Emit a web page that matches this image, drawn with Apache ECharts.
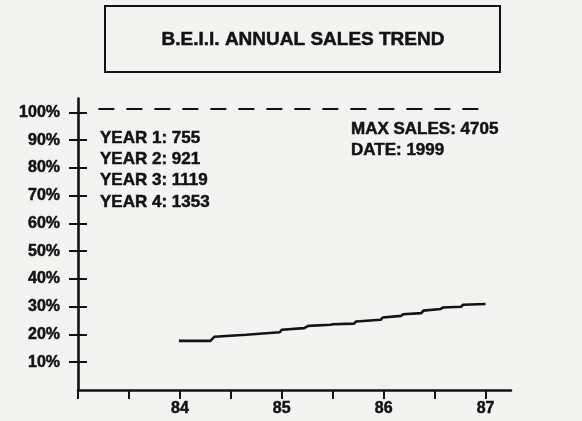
<!DOCTYPE html>
<html>
<head>
<meta charset="utf-8">
<script src="https://cdn.jsdelivr.net/npm/echarts@6/dist/echarts.min.js"></script>
<style>
html,body{margin:0;padding:0;background:#f3f3f1;}
#chart{width:582px;height:421px;}
</style>
</head>
<body>
<div id="chart"></div>
<script>
// ---- data ----
const chartTitle = 'B.E.I.I. ANNUAL SALES TREND';
const saleYears = [83.99, 84.30, 84.34, 84.65, 84.66, 84.98, 85.00, 85.22, 85.26, 85.48, 85.50, 85.71,
                   85.73, 85.97, 85.99, 86.17, 86.19, 86.37, 86.39, 86.56, 86.58, 86.76, 86.78, 87.00];
const salePct   = [17.7, 17.7, 19.2, 19.9, 20.5, 20.8, 21.7, 22.3, 23.1, 23.5, 23.7, 23.9,
                   24.7, 25.3, 26.1, 26.7, 27.3, 27.7, 28.6, 29.2, 29.7, 30.0, 30.7, 31.0];
const refLineYears = [83.2, 87.0];
const refLinePct = 101.5;
const yTickValues = [10, 20, 30, 40, 50, 60, 70, 80, 90, 100];
const xTickValues = [83, 83.5, 84, 84.5, 85, 85.5, 86, 86.5, 87];
const xLabelValues = [84, 85, 86, 87];
const yearNames = ['YEAR 1', 'YEAR 2', 'YEAR 3', 'YEAR 4'];
const yearSales = [755, 921, 1119, 1353];
const maxSales = 4705;
const maxDate = 1999;

// ---- chart ----
const ink = '#131313';
const font = "'Liberation Sans', Arial, sans-serif";
const chart = echarts.init(document.getElementById('chart'), null, {renderer: 'canvas'});

const heavy = {stroke: ink, lineWidth: 0.5};
const graphics = [
  {type: 'rect', shape: {x: 105, y: 6, width: 395, height: 66},
   style: {fill: 'none', stroke: ink, lineWidth: 2}},
  {type: 'text', x: 303, y: 40,
   style: Object.assign({text: chartTitle, fill: ink, font: 'bold 19px ' + font, textAlign: 'center', textVerticalAlign: 'middle'}, heavy)}
];
yearNames.forEach((n, i) => {
  graphics.push({type: 'text', x: 100, y: 138 + i * 21.3,
    style: Object.assign({text: n + ': ' + yearSales[i], fill: ink, font: 'bold 17px ' + font, textVerticalAlign: 'middle'}, heavy)});
});
graphics.push({type: 'text', x: 351, y: 129,
  style: Object.assign({text: 'MAX SALES: ' + maxSales, fill: ink, font: 'bold 17px ' + font, textVerticalAlign: 'middle'}, heavy)});
graphics.push({type: 'text', x: 351, y: 150,
  style: Object.assign({text: 'DATE: ' + maxDate, fill: ink, font: 'bold 17px ' + font, textVerticalAlign: 'middle'}, heavy)});

const yAxisCommon = {
  type: 'value', min: 0, max: 105, interval: 10, position: 'left',
  splitLine: {show: false}
};

chart.setOption({
  backgroundColor: '#f3f3f1',
  animation: false,
  grid: {left: 78, right: 71, top: 98.6, bottom: 31},
  graphic: graphics,
  xAxis: {
    type: 'value', min: 83, max: 87.25,
    splitLine: {show: false},
    axisLine: {show: true, lineStyle: {color: ink, width: 2.6}},
    axisTick: {show: true, customValues: xTickValues, length: 9, lineStyle: {color: ink, width: 2}},
    axisLabel: {show: true, customValues: xLabelValues, margin: 11, color: ink,
      textBorderColor: ink, textBorderWidth: 0.5,
      fontFamily: font, fontWeight: 'bold', fontSize: 16, formatter: v => String(Math.round(v))}
  },
  yAxis: [
    Object.assign({}, yAxisCommon, {
      axisLine: {show: true, lineStyle: {color: ink, width: 2.6}},
      axisTick: {show: true, customValues: yTickValues, length: 9, lineStyle: {color: ink, width: 2}},
      axisLabel: {show: true, customValues: yTickValues, margin: 18, color: ink,
        textBorderColor: ink, textBorderWidth: 0.5,
        fontFamily: font, fontWeight: 'bold', fontSize: 16, formatter: '{value}%'}
    }),
    Object.assign({}, yAxisCommon, {
      axisLine: {show: false},
      axisTick: {show: true, inside: true, customValues: yTickValues, length: 9, lineStyle: {color: ink, width: 2}},
      axisLabel: {show: false}
    })
  ],
  series: [{
    type: 'line',
    data: saleYears.map((x, i) => [x, salePct[i]]),
    symbol: 'none',
    lineStyle: {color: ink, width: 2.6},
    markLine: {
      silent: true, symbol: 'none', label: {show: false},
      lineStyle: {color: ink, width: 2, type: [16, 12]},
      data: [[{coord: [refLineYears[0], refLinePct]}, {coord: [refLineYears[1], refLinePct]}]]
    }
  }]
});
</script>
</body>
</html>
